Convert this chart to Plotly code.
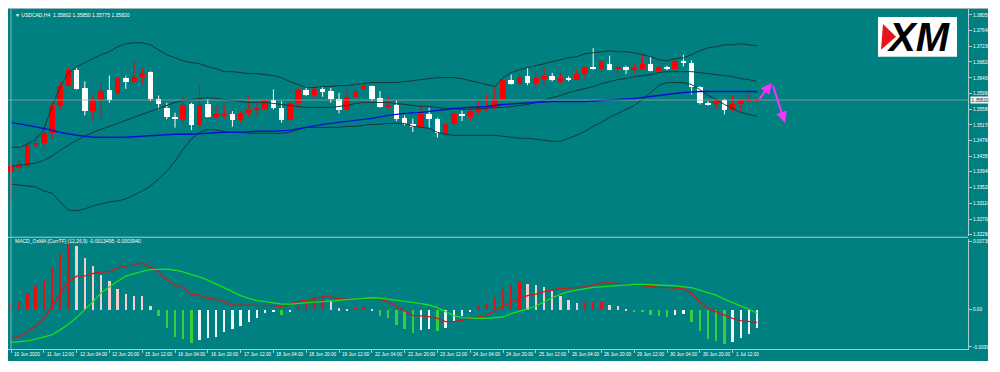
import plotly.graph_objects as go

# page is rendered with an 8px body margin: figure covers page pixels 8..1000 x 8..372
OFF = 8
W, H = 1000 - OFF, 372 - OFF

# ---------------- data ----------------
bars = list(range(92))

open_ = [1.33933, 1.34063, 1.34102, 1.34636, 1.34688, 1.34967, 1.35661, 1.36200, 1.36617, 1.36140,
         1.35530, 1.35809, 1.36078, 1.36009, 1.36400, 1.36286, 1.36426, 1.36557, 1.35861, 1.35600,
         1.35384, 1.35314, 1.35705, 1.35157, 1.35705, 1.35384, 1.35423, 1.35444, 1.35296, 1.35488,
         1.35556, 1.35592, 1.35817, 1.35619, 1.35296, 1.35749, 1.36096, 1.35947, 1.36114, 1.36052,
         1.35853, 1.35548, 1.35895, 1.36114, 1.36182, 1.35879, 1.35645, 1.35687, 1.35340, 1.35184,
         1.35123, 1.35444, 1.35314, 1.34923, 1.35184, 1.35423, 1.35384, 1.35514, 1.35592, 1.35635,
         1.35861, 1.36338, 1.36252, 1.36442, 1.36270, 1.36382, 1.36460, 1.36286, 1.36400, 1.36356,
         1.36505, 1.36661, 1.36643, 1.36765, 1.36635, 1.36677, 1.36625, 1.36635, 1.36773, 1.36573,
         1.36677, 1.36635, 1.36851, 1.36791, 1.36156, 1.35731, 1.35705, 1.35835, 1.35556, 1.35705,
         1.35791, 1.35802]
high = [1.34141, 1.34271, 1.34753, 1.34949, 1.35097, 1.35835, 1.36312, 1.36661, 1.36661, 1.36312,
        1.35965, 1.36286, 1.36460, 1.36442, 1.36442, 1.36859, 1.36677, 1.36573, 1.35939, 1.35749,
        1.35488, 1.35965, 1.35749, 1.36226, 1.35835, 1.35661, 1.35705, 1.35530, 1.35530, 1.35939,
        1.35765, 1.35835, 1.36096, 1.35791, 1.35791, 1.36140, 1.36166, 1.36140, 1.36156, 1.36140,
        1.36009, 1.36156, 1.36182, 1.36286, 1.36200, 1.36052, 1.35905, 1.35809, 1.35418, 1.35332,
        1.35705, 1.35619, 1.35358, 1.35228, 1.35574, 1.35548, 1.35619, 1.35791, 1.35965, 1.36182,
        1.36374, 1.36486, 1.36531, 1.36661, 1.36547, 1.36687, 1.36531, 1.36531, 1.36442, 1.36617,
        1.36703, 1.37182, 1.36877, 1.36982, 1.36721, 1.36721, 1.36773, 1.37034, 1.36948, 1.36721,
        1.36721, 1.36921, 1.37008, 1.36859, 1.36182, 1.35791, 1.35843, 1.35853, 1.35939, 1.35853,
        1.36025, 1.35850]
low = [1.33151, 1.33959, 1.34011, 1.34532, 1.34532, 1.34793, 1.35574, 1.36182, 1.36096, 1.35418,
       1.35270, 1.35374, 1.35749, 1.35965, 1.36114, 1.36270, 1.36226, 1.35791, 1.35574, 1.35314,
       1.35097, 1.35184, 1.35035, 1.35097, 1.35358, 1.35332, 1.35314, 1.35123, 1.35228, 1.35384,
       1.35400, 1.35574, 1.35574, 1.35228, 1.35228, 1.35574, 1.35921, 1.35879, 1.35905, 1.35749,
       1.35470, 1.35530, 1.35879, 1.36096, 1.35791, 1.35619, 1.35592, 1.35270, 1.35157, 1.34983,
       1.35097, 1.35097, 1.34837, 1.34879, 1.35123, 1.35270, 1.35270, 1.35444, 1.35530, 1.35556,
       1.35835, 1.36226, 1.36200, 1.36208, 1.36078, 1.36226, 1.36312, 1.36270, 1.36312, 1.36338,
       1.36356, 1.36617, 1.36531, 1.36599, 1.36486, 1.36505, 1.36505, 1.36617, 1.36573, 1.36539,
       1.36599, 1.36617, 1.36703, 1.35965, 1.35705, 1.35679, 1.35592, 1.35444, 1.35530, 1.35488,
       1.35765, 1.35775]
close = [1.34089, 1.34115, 1.34636, 1.34688, 1.34967, 1.35661, 1.36200, 1.36617, 1.36114, 1.35530,
         1.35809, 1.36070, 1.35809, 1.36400, 1.36286, 1.36426, 1.36531, 1.35861, 1.35705, 1.35384,
         1.35332, 1.35687, 1.35157, 1.35687, 1.35384, 1.35444, 1.35444, 1.35296, 1.35488, 1.35556,
         1.35619, 1.35809, 1.35619, 1.35296, 1.35749, 1.36096, 1.35965, 1.36114, 1.36035, 1.35853,
         1.35548, 1.35895, 1.36052, 1.36200, 1.35853, 1.35645, 1.35697, 1.35314, 1.35184, 1.35139,
         1.35444, 1.35314, 1.34949, 1.35184, 1.35488, 1.35413, 1.35530, 1.35600, 1.35635, 1.35861,
         1.36356, 1.36252, 1.36426, 1.36270, 1.36400, 1.36460, 1.36356, 1.36400, 1.36356, 1.36505,
         1.36677, 1.36635, 1.36851, 1.36617, 1.36677, 1.36617, 1.36643, 1.36773, 1.36591, 1.36677,
         1.36635, 1.36851, 1.36791, 1.36156, 1.35731, 1.35705, 1.35835, 1.35556, 1.35705, 1.35809,
         1.35853, 1.35820]

bb_upper = [1.34584, 1.34584, 1.34662, 1.34793, 1.35053, 1.35653, 1.36174, 1.36539, 1.36695, 1.36799,
            1.36903, 1.37008, 1.37086, 1.37216, 1.37294, 1.37320, 1.37320, 1.37268, 1.37138, 1.37008,
            1.36929, 1.36851, 1.36799, 1.36773, 1.36695, 1.36643, 1.36565, 1.36565, 1.36539, 1.36513,
            1.36513, 1.36486, 1.36460, 1.36408, 1.36304, 1.36226, 1.36148, 1.36148, 1.36174, 1.36174,
            1.36200, 1.36200, 1.36226, 1.36252, 1.36278, 1.36278, 1.36278, 1.36278, 1.36304, 1.36330,
            1.36356, 1.36382, 1.36408, 1.36408, 1.36408, 1.36382, 1.36330, 1.36278, 1.36226, 1.36174,
            1.36408, 1.36539, 1.36617, 1.36669, 1.36721, 1.36773, 1.36825, 1.36877, 1.36929, 1.36956,
            1.37034, 1.37060, 1.37086, 1.37112, 1.37086, 1.37086, 1.37060, 1.37008, 1.36956, 1.36877,
            1.36851, 1.36903, 1.36929, 1.37008, 1.37112, 1.37190, 1.37216, 1.37268, 1.37268, 1.37294,
            1.37268, 1.37242]
bb_middle = [1.34089, 1.34115, 1.34141, 1.34167, 1.34245, 1.34350, 1.34506, 1.34636, 1.34767, 1.34871,
             1.34975, 1.35053, 1.35131, 1.35210, 1.35288, 1.35366, 1.35444, 1.35522, 1.35600, 1.35679,
             1.35757, 1.35809, 1.35835, 1.35861, 1.35887, 1.35861, 1.35835, 1.35809, 1.35783, 1.35757,
             1.35757, 1.35757, 1.35731, 1.35705, 1.35679, 1.35653, 1.35627, 1.35627, 1.35627, 1.35627,
             1.35653, 1.35679, 1.35731, 1.35757, 1.35757, 1.35757, 1.35757, 1.35731, 1.35705, 1.35679,
             1.35653, 1.35653, 1.35627, 1.35600, 1.35600, 1.35574, 1.35574, 1.35600, 1.35600, 1.35627,
             1.35627, 1.35653, 1.35679, 1.35705, 1.35757, 1.35809, 1.35887, 1.35939, 1.36017, 1.36070,
             1.36122, 1.36174, 1.36252, 1.36304, 1.36356, 1.36382, 1.36434, 1.36460, 1.36486, 1.36539,
             1.36565, 1.36565, 1.36565, 1.36565, 1.36539, 1.36513, 1.36486, 1.36460, 1.36434, 1.36382,
             1.36356, 1.36304]
bb_lower = [1.33620, 1.33594, 1.33568, 1.33542, 1.33437, 1.33385, 1.33151, 1.32942, 1.32916, 1.32968,
            1.33047, 1.33099, 1.33151, 1.33177, 1.33229, 1.33333, 1.33437, 1.33568, 1.33750, 1.33959,
            1.34219, 1.34532, 1.34793, 1.34975, 1.35053, 1.35027, 1.35001, 1.34975, 1.34975, 1.34949,
            1.34949, 1.34949, 1.34949, 1.34949, 1.34975, 1.35053, 1.35105, 1.35105, 1.35105, 1.35105,
            1.35105, 1.35131, 1.35131, 1.35157, 1.35184, 1.35184, 1.35210, 1.35210, 1.35210, 1.35131,
            1.35105, 1.35079, 1.34975, 1.34923, 1.34897, 1.34897, 1.34897, 1.34897, 1.34897, 1.34897,
            1.34871, 1.34845, 1.34819, 1.34819, 1.34793, 1.34767, 1.34740, 1.34740, 1.34819, 1.34897,
            1.35001, 1.35131, 1.35236, 1.35366, 1.35470, 1.35574, 1.35679, 1.35835, 1.36017, 1.36200,
            1.36278, 1.36278, 1.36278, 1.36226, 1.36096, 1.35939, 1.35835, 1.35705, 1.35600, 1.35496,
            1.35444, 1.35392]

ma_bars = [0, 2, 4, 6, 8, 10, 12, 14, 16, 18, 20, 22, 24, 26, 28, 30, 32, 34, 36, 38, 40, 42, 44,
           46, 48, 50, 52, 54, 56, 58, 60, 62, 64, 66, 68, 70, 72, 74, 76, 78, 80, 82, 84, 86, 88, 90, 91]
ma_vals = [1.35236, 1.35157, 1.35079, 1.34975, 1.34897, 1.34845, 1.34845, 1.34845, 1.34871, 1.34897,
           1.34923, 1.34923, 1.34949, 1.34975, 1.34975, 1.35001, 1.35001, 1.35027, 1.35105, 1.35184,
           1.35236, 1.35288, 1.35340, 1.35418, 1.35470, 1.35496, 1.35548, 1.35600, 1.35627, 1.35653,
           1.35705, 1.35731, 1.35757, 1.35783, 1.35783, 1.35783, 1.35809, 1.35835, 1.35861, 1.35913,
           1.35965, 1.36017, 1.36043, 1.36043, 1.36043, 1.36043, 1.36043]

macd_hist = [0.0008, 0.00098, 0.00187, 0.00255, 0.0033, 0.00462, 0.00605, 0.00722, 0.00694, 0.00558,
             0.00472, 0.00383, 0.00308, 0.0023, 0.00177, 0.00152, 0.00148, 0.00045, -0.00062, -0.0019,
             -0.00287, -0.0031, -0.00358, -0.00323, -0.00305, -0.00287, -0.00233, -0.00198, -0.00169, -0.00126,
             -0.00083, -0.00027, -0.00013, -0.00048, -0.00013, 0.00052, 0.00088, 0.00116, 0.00119, 0.00094,
             0.0002, 0.0001, 0.00023, 0.00034, 0.0001, -0.00062, -0.0008, -0.00155, -0.00198, -0.00241,
             -0.00216, -0.00198, -0.00227, -0.0019, -0.0012, -0.00066, -0.0001, 0.00041, 0.0007, 0.0013,
             0.0023, 0.00266, 0.00301, 0.00284, 0.00273, 0.00248, 0.00201, 0.00148, 0.00105, 0.0008,
             0.00082, 0.00085, 0.00088, 0.00059, 0.00041, 0.00016, -0.0001, -0.0002, -0.0005, -0.0006,
             -0.00075, -0.0005, -0.00045, -0.00125, -0.0023, -0.0031, -0.0033, -0.00369, -0.00348, -0.00305,
             -0.00252, -0.0019]
macd_main = [-0.00305, -0.00287, -0.00233, -0.0018, -0.00091, 0.00034, 0.00177, 0.00301, 0.00362, 0.00366,
             0.00391, 0.00409, 0.00409, 0.00451, 0.00473, 0.0048, 0.00505, 0.00462, 0.00409, 0.00319,
             0.00265, 0.00238, 0.00166, 0.00158, 0.00123, 0.00112, 0.00088, 0.00051, 0.00051, 0.00051,
             0.00051, 0.00051, 0.00045, 0.00034, 0.00059, 0.00091, 0.00102, 0.00127, 0.00138, 0.00138,
             0.0012, 0.00112, 0.00115, 0.0012, 0.0012, 0.00112, 0.00088, 0.00034, -0.00012, -0.00059,
             -0.00066, -0.00073, -0.00091, -0.00126, -0.00126, -0.00112, -0.00091, -0.00077, -0.00056, -0.00013,
             0.00041, 0.0008, 0.00123, 0.00152, 0.00169, 0.00195, 0.00216, 0.0023, 0.00233, 0.00238,
             0.00248, 0.00265, 0.00291, 0.00291, 0.00287, 0.0028, 0.00273, 0.00262, 0.00248, 0.00241,
             0.00238, 0.00233, 0.0023, 0.00177, 0.00088, 0.00016, -0.00019, -0.00062, -0.00091, -0.00116,
             -0.00126, -0.00134]
macd_signal = [-0.00351, -0.00344, -0.00334, -0.00316, -0.00294, -0.0027, -0.00216, -0.00155, -0.00083, 0.0,
               0.00088, 0.00184, 0.00248, 0.00308, 0.00362, 0.00391, 0.00415, 0.00433, 0.00437, 0.00437,
               0.00426, 0.00409, 0.0038, 0.00355, 0.00319, 0.00276, 0.0023, 0.00195, 0.00152, 0.00123,
               0.00098, 0.00088, 0.00077, 0.00062, 0.00062, 0.0007, 0.00077, 0.0008, 0.00088, 0.00094,
               0.00102, 0.00109, 0.00116, 0.00126, 0.0013, 0.00126, 0.00116, 0.00105, 0.00094, 0.0008,
               0.00066, 0.00052, 0.00023, -0.00019, -0.00062, -0.00083, -0.00091, -0.00091, -0.00091, -0.00088,
               -0.00077, -0.00041, -0.00019, 0.00009, 0.00041, 0.00088, 0.0013, 0.00166, 0.00195, 0.00212,
               0.0023, 0.00241, 0.00248, 0.00255, 0.00262, 0.0027, 0.00273, 0.00273, 0.0027, 0.00265,
               0.00262, 0.00259, 0.00248, 0.00238, 0.00212, 0.00184, 0.00158, 0.00116, 0.0008, 0.00041,
               0.00005, -0.00037]

tick_bars = [0, 4, 8, 12, 16, 20, 24, 28, 32, 36, 40, 44, 48, 52, 56, 60, 64, 68, 72, 76, 80, 84, 88]
tick_labels = ["10 Jun 2020", "11 Jun 12:00", "12 Jun 04:00", "12 Jun 20:00", "15 Jun 12:00",
               "16 Jun 04:00", "16 Jun 20:00", "17 Jun 12:00", "18 Jun 04:00", "18 Jun 20:00",
               "19 Jun 12:00", "22 Jun 04:00", "22 Jun 20:00", "23 Jun 12:00", "24 Jun 04:00",
               "24 Jun 20:00", "25 Jun 12:00", "26 Jun 04:00", "26 Jun 20:00", "29 Jun 12:00",
               "30 Jun 04:00", "30 Jun 20:00", "1 Jul 12:00"]

price_ticks = [1.38050, 1.37640, 1.37230, 1.36820, 1.36400, 1.35990, 1.35580, 1.35170,
               1.34760, 1.34350, 1.33940, 1.33520, 1.33110, 1.32700, 1.32290]
macd_ticks = [0.00738, 0.0, -0.00399]
macd_tick_text = ["0.00738", "0.00", "-0.00399"]

last_price = 1.35820
title_text = "▼ USDCAD,H4  1.35802 1.35850 1.35775 1.35820"
macd_title = "MACD_OsMA [CurrTF] (12,26,9) -0.0013495 -0.0003940"

# drawn forecast arrows (bar, price)
arrow_up = [(91.13, 1.35809), (92.77, 1.36270)]
arrow_down = [(92.85, 1.36240), (94.39, 1.35228)]

# ---------------- styling / geometry ----------------
TEAL = "#008080"
FRAME = "#a9cccc"
FONT = "Liberation Sans"
BULL = "#ff0000"
BEAR = "#ffffff"


def px(x):
    """page pixel x -> paper"""
    return (x - OFF) / W


def py(y):
    """page pixel y -> paper"""
    return 1 - (y - OFF) / H


bar_px = 8.2
X_L, X_R = 8, 968          # page pixels of plot area
x0 = (X_L - 11) / bar_px   # bar 0 sits at page x = 11
x1 = x0 + (X_R - X_L) / bar_px
xrange_ = [x0, x1]

fig = go.Figure()

# candle wicks
for up, col in ((True, BULL), (False, BEAR)):
    wx, wy = [], []
    for i in bars:
        if (close[i] >= open_[i]) == up:
            wx += [i, i, None]
            wy += [low[i], high[i], None]
    fig.add_trace(go.Scatter(x=wx, y=wy, mode="lines", line=dict(color=col, width=1),
                             hoverinfo="skip", showlegend=False, xaxis="x", yaxis="y"))

# candle bodies
MINB = 0.00027
body_h = [max(abs(c - o), MINB) for o, c in zip(open_, close)]
body_b = [min(o, c) if abs(c - o) >= MINB else (o + c) / 2 - MINB / 2 for o, c in zip(open_, close)]
body_c = [BULL if c >= o else BEAR for o, c in zip(open_, close)]
fig.add_trace(go.Bar(x=bars, y=body_h, base=body_b, width=0.66,
                     marker=dict(color=body_c, line=dict(width=0)),
                     hoverinfo="skip", showlegend=False, xaxis="x", yaxis="y"))

# bollinger bands
for band in (bb_upper, bb_middle, bb_lower):
    fig.add_trace(go.Scatter(x=bars, y=band, mode="lines", line=dict(color="#163838", width=1),
                             hoverinfo="skip", showlegend=False, xaxis="x", yaxis="y"))
# moving average
fig.add_trace(go.Scatter(x=ma_bars, y=ma_vals, mode="lines", line=dict(color="#0010d0", width=1.4),
                         hoverinfo="skip", showlegend=False, xaxis="x", yaxis="y"))

# MACD histogram colours derived from data
hcol = []
for i, v in enumerate(macd_hist):
    prev = macd_hist[i - 1] if i > 0 else v - 1
    if v >= 0:
        hcol.append("#e01414" if v > prev else "#f2cdcd")
    else:
        hcol.append("#3ccc3c" if v < prev else "#eef8f8")
fig.add_trace(go.Bar(x=bars, y=macd_hist, width=0.28, marker=dict(color=hcol, line=dict(width=0)),
                     hoverinfo="skip", showlegend=False, xaxis="x2", yaxis="y2"))
fig.add_trace(go.Scatter(x=bars, y=macd_main, mode="lines", line=dict(color="#d81818", width=1.3),
                         hoverinfo="skip", showlegend=False, xaxis="x2", yaxis="y2"))
fig.add_trace(go.Scatter(x=bars, y=macd_signal, mode="lines", line=dict(color="#18e018", width=1.3),
                         hoverinfo="skip", showlegend=False, xaxis="x2", yaxis="y2"))

# current price line
fig.add_trace(go.Scatter(x=xrange_, y=[last_price, last_price], mode="lines",
                         line=dict(color="rgba(170,170,170,0.85)", width=0.8),
                         hoverinfo="skip", showlegend=False, xaxis="x", yaxis="y"))

p_top = 1.38050 + 6 * 0.0002606
p_bot = 1.38050 - 222 * 0.0002606
m_top = 71.5 * 0.000107
m_bot = -39.5 * 0.000107

axis_font = dict(family=FONT, size=4.7, color="white")

fig.update_layout(
    width=W, height=H, margin=dict(l=0, r=0, t=0, b=0),
    paper_bgcolor="white", plot_bgcolor=TEAL,
    showlegend=False, barmode="overlay", bargap=0,
    xaxis=dict(domain=[px(X_L), px(X_R)], range=xrange_, showticklabels=False, showgrid=False,
               zeroline=False, showline=False, ticks="", anchor="y"),
    yaxis=dict(domain=[py(237), py(9)], range=[p_bot, p_top], side="right", anchor="x",
               tickvals=price_ticks, ticktext=[f"{v:.5f}" for v in price_ticks],
               tickfont=axis_font, ticks="outside", ticklen=3, tickcolor=FRAME, tickwidth=1,
               showgrid=False, zeroline=False, showline=True, linecolor=FRAME, linewidth=1),
    xaxis2=dict(domain=[px(X_L), px(X_R)], range=xrange_, showticklabels=False, showgrid=False,
                zeroline=False, showline=True, linecolor=FRAME, linewidth=1, anchor="y2",
                tickvals=tick_bars, ticks="outside", ticklen=3, tickcolor=FRAME, tickwidth=1),
    yaxis2=dict(domain=[py(351), py(240)], range=[m_bot, m_top], side="right", anchor="x2",
                tickvals=macd_ticks, ticktext=macd_tick_text, tickfont=axis_font,
                ticks="outside", ticklen=3, tickcolor=FRAME, tickwidth=1,
                showgrid=False, zeroline=False, showline=True, linecolor=FRAME, linewidth=1),
)

shapes = [
    dict(type="rect", xref="paper", yref="paper", x0=px(OFF), x1=px(988), y0=py(363), y1=py(OFF),
         fillcolor=TEAL, line=dict(width=0), layer="below"),
    dict(type="line", xref="paper", yref="paper", x0=px(OFF), x1=px(988), y0=py(8.5), y1=py(8.5),
         line=dict(color="#9ab8b8", width=1)),
    dict(type="line", xref="paper", yref="paper", x0=px(OFF), x1=px(968), y0=py(238.5), y1=py(238.5),
         line=dict(color=FRAME, width=1)),
    dict(type="line", xref="paper", yref="paper", x0=px(11), x1=px(11), y0=py(351), y1=py(9),
         line=dict(color="#7fb8b8", width=1)),
    # XM logo
    dict(type="rect", xref="paper", yref="paper", x0=px(878), x1=px(957), y0=py(57), y1=py(17),
         fillcolor="white", line=dict(width=0)),
    dict(type="path", xref="paper", yref="paper",
         path=f"M {px(883)},{py(24)} L {px(896)},{py(37)} L {px(881)},{py(50)} Z",
         fillcolor="#e8141c", line=dict(width=0)),
]
fig.update_layout(shapes=shapes)

ann = []
ann.append(dict(xref="paper", yref="paper", x=px(13), y=py(15.5), xanchor="left", yanchor="middle",
                text=title_text, showarrow=False, font=dict(family=FONT, size=5, color="white")))
ann.append(dict(xref="paper", yref="paper", x=px(13), y=py(242.5), xanchor="left", yanchor="middle",
                text=macd_title, showarrow=False, font=dict(family=FONT, size=5, color="white")))
for b, lab in zip(tick_bars, tick_labels):
    ann.append(dict(xref="x2", yref="paper", x=b, y=py(356), xanchor="left", yanchor="middle",
                    xshift=1, text=lab, showarrow=False, font=dict(family=FONT, size=4.7, color="white")))
ann.append(dict(xref="paper", yref="y", x=px(969.5), y=last_price, xanchor="left", yanchor="middle",
                text=f"{last_price:.5f}", showarrow=False, bgcolor="#f4f4f4", borderpad=0.5,
                font=dict(family=FONT, size=4.7, color="#1a1a1a")))
ann.append(dict(xref="paper", yref="paper", x=px(919), y=py(37), xanchor="center", yanchor="middle",
                text="<b><i>XM</i></b>", showarrow=False,
                font=dict(family=FONT, size=40, color="black")))
for seg in (arrow_up, arrow_down):
    (sx, sy), (ex, ey) = seg
    ann.append(dict(xref="x", yref="y", axref="x", ayref="y", x=ex, y=ey, ax=sx, ay=sy,
                    text="", showarrow=True, arrowhead=2, arrowsize=1.1, arrowwidth=2,
                    arrowcolor="#ff30ff"))
fig.update_layout(annotations=ann)

fig.write_html("out.html")
